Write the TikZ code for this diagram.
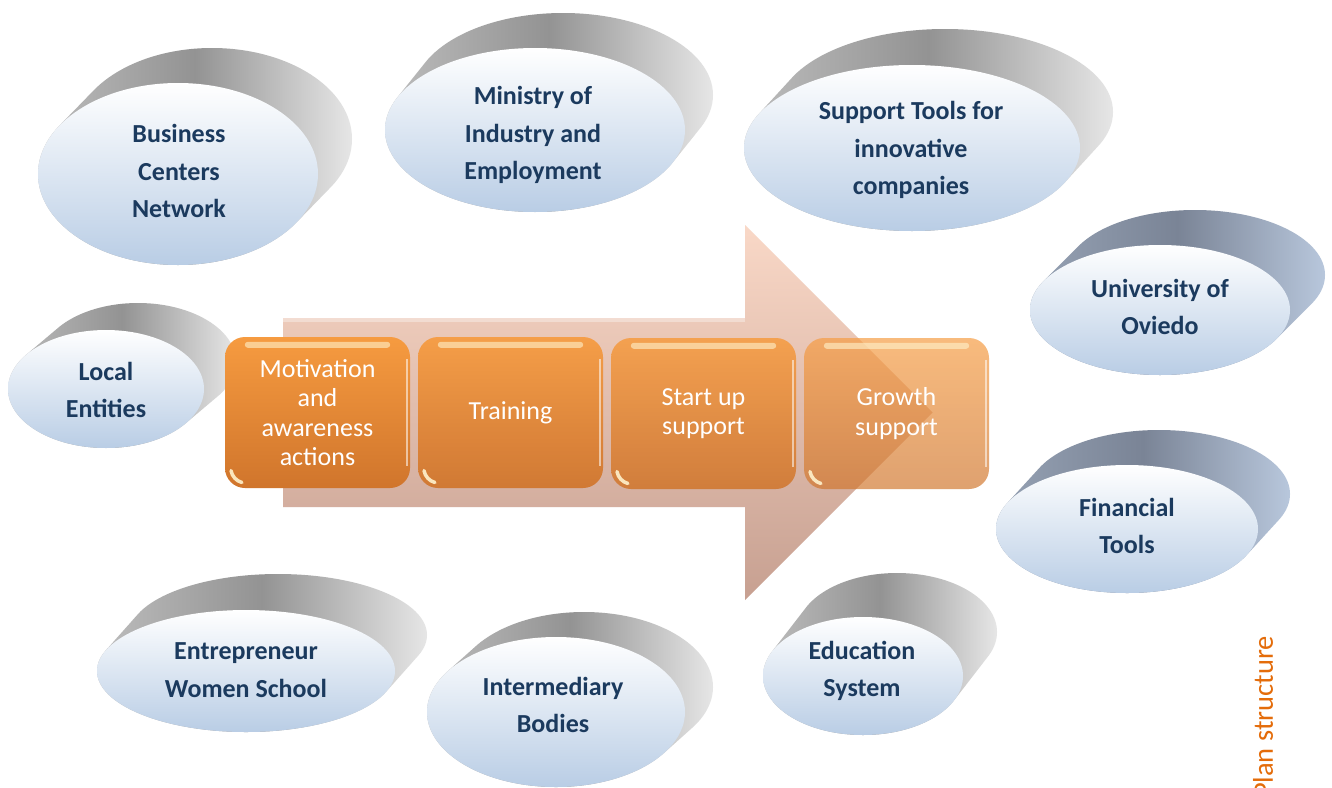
\documentclass[tikz,border=0pt]{standalone}
\usepackage{fontspec}
\setmainfont{Carlito}
\usetikzlibrary{shapes.geometric,calc}

\definecolor{navy}{HTML}{1B3A5E}
\definecolor{frontblue}{HTML}{B9CDE5}
\definecolor{rimA}{HTML}{BDBDBD}
\definecolor{rimB}{HTML}{939393}
\definecolor{rimC}{HTML}{E6E6E6}
\definecolor{slateA}{HTML}{96A2B4}
\definecolor{slateB}{HTML}{7A8496}
\definecolor{slateC}{HTML}{B8C7DC}
\definecolor{boxtop}{HTML}{F69B40}
\definecolor{boxbot}{HTML}{D0752C}
\definecolor{arrowtop}{HTML}{F9D8C7}
\definecolor{arrowbot}{HTML}{C7A091}
\definecolor{glint}{HTML}{FFF2CC}
\definecolor{planorange}{HTML}{E46C0A}

\tikzset{
  rimgray/.style={left color=rimA, right color=rimC, middle color=rimB},
  rimslate/.style={left color=slateA, right color=slateC, middle color=slateB},
  face/.style={ellipse, inner sep=0pt, top color=white, bottom color=frontblue, draw=none},
  facetext/.style={font=\bfseries\fontsize{26}{37.5}\selectfont, text=navy, align=center},
  stepbox/.style={rectangle, rounded corners=20pt, minimum width=185pt, minimum height=151pt,
    top color=boxtop, bottom color=boxbot, draw=none, text=white, text opacity=1,
    font=\fontsize{26}{29.5}\selectfont, align=center},
  bigarrow/.style={top color=arrowtop, bottom color=arrowbot, draw=none},
}

% extruded disc: #1 name, #2 cx, #3 cy, #4 x radius, #5 y radius, #6 dx, #7 dy, #8 rim style
\newcommand\disc[8]{%
  \shade[#8] \foreach \k in {0,...,30} {({#2+\k*#6/30},{#3+\k*#7/30}) ellipse [x radius=#4pt, y radius=#5pt]};
  \node[face, minimum width={2*#4pt}, minimum height={2*#5pt}] (#1) at (#2,#3) {};
}

% glossy highlights on a process box
\newcommand\gloss[1]{%
  \fill[glint, opacity=0.6, rounded corners=3pt] ($(#1.north west)+(20,5)$) rectangle ($(#1.north east)+(-20,11)$);
  \draw[white, opacity=0.55, line width=1.5pt] ($(#1.north east)+(-3,22)$) -- ($(#1.south east)+(-3,-22)$);
  \draw[glint, opacity=0.9, line width=3.5pt, line cap=round] ($(#1.south west)+(6.2,-17.6)$) arc[start angle=190, end angle=255, radius=15pt];
}

\begin{document}
\begin{tikzpicture}[x=1pt,y=-1pt]
\useasboundingbox (0,0) rectangle (1332,787);
\fill[white] (0,0) rectangle (1332,787);

% partner bubbles
\disc{business}{178}{174}{140}{91}{34}{-35}{rimgray}
\disc{ministry}{535}{130}{150}{82}{28}{-35}{rimgray}
\disc{support}{912}{148}{168}{83}{33}{-36}{rimgray}
\disc{oviedo}{1160}{310}{130}{65}{35}{-35}{rimslate}
\disc{financial}{1127}{529}{131}{64}{32}{-35}{rimslate}
\disc{local}{106}{389}{98}{59}{32}{-27}{rimgray}
\disc{women}{246}{671}{149}{61}{32}{-36}{rimgray}
\disc{intermediary}{556}{712}{129}{75}{28}{-25}{rimgray}
\disc{education}{863}{676}{100}{59}{34}{-44}{rimgray}

\node[facetext] (t-business) at (179,171) {Business\\Centers\\Network};
\node[facetext] (t-ministry) at (533,135) {Ministry of\\Industry and\\Employment};
\node[facetext] (t-support) at (911,150) {Support Tools for\\innovative\\companies};
\node[facetext] (t-oviedo) at (1160,307) {University of\\Oviedo};
\node[facetext] (t-financial) at (1127,526) {Financial\\Tools};
\node[facetext] (t-local) at (106,390) {Local\\Entities};
\node[facetext] (t-women) at (246,670) {Entrepreneur\\Women School};
\node[facetext] (t-intermediary) at (553,705) {Intermediary\\Bodies};
\node[facetext] (t-education) at (862,671) {Education\\System};

% process arrow
\shade[bigarrow] (283,318) -- (745,318) -- (745,225) -- (932.5,412.5) -- (745,600) -- (745,507) -- (283,507) -- cycle;
\fill[white, opacity=0.35] (283,318) rectangle (745,322);

% process steps
\node[stepbox] (s1) at (317.5,412.5) {Motivation\\and\\awareness\\actions};
\node[stepbox, fill opacity=0.93] (s2) at (510.5,412.5) {Training};
\node[stepbox, fill opacity=0.86] (s3) at (703.5,413.5) {Start up\\support};
\node[stepbox, fill opacity=0.68] (s4) at (896.5,413.5) {Growth\\support};
\gloss{s1}
\gloss{s2}
\gloss{s3}
\gloss{s4}

% side caption, running off the lower edge
\node[rotate=90, text=planorange, font=\fontsize{28.5}{31}\selectfont] (plan) at (1263,717) {Plan structure};
\end{tikzpicture}
\end{document}
